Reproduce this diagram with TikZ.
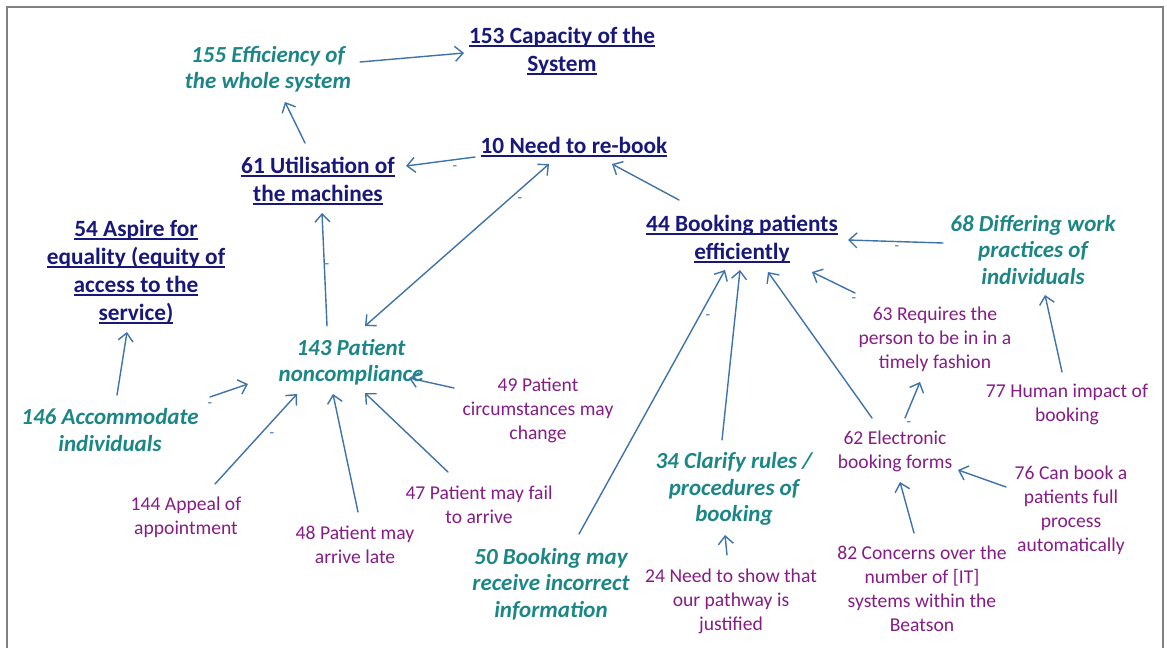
\documentclass[tikz,border=0pt]{standalone}
\usepackage{fontspec}
\setmainfont{Carlito}
\usetikzlibrary{arrows.meta}

\definecolor{navyT}{RGB}{24,24,122}
\definecolor{tealT}{RGB}{28,134,134}
\definecolor{plumT}{RGB}{134,28,134}
\definecolor{linkC}{RGB}{62,114,168}
\definecolor{frameC}{RGB}{128,128,128}

% thick underline for the core concepts
\newsavebox\ulbox
\newcommand\ulin[1]{\sbox\ulbox{#1}\rlap{\color{navyT}\rule[-4.2pt]{\wd\ulbox}{2.3pt}}\usebox\ulbox}

\tikzset{
  core/.style={font=\fontsize{23.3}{28}\selectfont\bfseries, text=navyT, align=center, inner sep=2pt},
  theme/.style={font=\fontsize{23}{26.5}\selectfont\bfseries\itshape, text=tealT, align=center, inner sep=2pt},
  idea/.style={font=\fontsize{19.6}{24}\selectfont, text=plumT, align=center, inner sep=2pt},
  link/.style={draw=linkC, line width=1.4pt, line cap=round,
    -{Straight Barb[length=8pt,width=15pt]}},
  twoway/.style={draw=linkC, line width=1.4pt, line cap=round,
    {Straight Barb[length=8pt,width=15pt]}-{Straight Barb[length=8pt,width=15pt]}},
  sign/.style={font=\fontsize{15}{15}\selectfont, text=linkC, inner sep=0pt}
}

\begin{document}
\begin{tikzpicture}[x=1pt,y=-1pt]
\useasboundingbox (0,0) rectangle (1167,648);

% frame
\draw[frameC, line width=2.4pt] (7,648) -- (7,7) -- (1163,7) -- (1163,648);

% concepts
\node[core]  (n153) at (562,51)  {\ulin{153 Capacity of the}\\\ulin{System}};
\node[theme] (n155) at (268,69)  {155 Efficiency of\\the whole system};
\node[core]  (n10)  at (574,147) {\ulin{10 Need to re-book}};
\node[core]  (n61)  at (318,181) {\ulin{61 Utilisation of}\\\ulin{the machines}};
\node[core]  (n54)  at (136,272) {\ulin{54 Aspire for}\\\ulin{equality (equity of}\\\ulin{access to the}\\\ulin{service)}};
\node[core]  (n44)  at (742,239) {\ulin{44 Booking patients}\\\ulin{efficiently}};
\node[theme] (n68)  at (1033,250) {68 Differing work\\practices of\\individuals};
\node[theme] (n143) at (351,362) {143 Patient\\noncompliance};
\node[theme] (n146) at (110,430) {146 Accommodate\\individuals};
\node[idea]  (n49)  at (538,410) {49 Patient\\circumstances may\\change};
\node[idea]  (n63)  at (935,339) {63 Requires the\\person to be in in a\\timely fashion};
\node[idea]  (n77)  at (1067,404) {77 Human impact of\\booking};
\node[idea]  (n62)  at (895,451) {62 Electronic\\booking forms};
\node[theme] (n34)  at (734,489) {34 Clarify rules /\\procedures of\\booking};
\node[idea]  (n76)  at (1071,510) {76 Can book a\\patients full\\process\\automatically};
\node[idea]  (n82)  at (922,589) {82 Concerns over the\\number of [IT]\\systems within the\\Beatson};
\node[idea]  (n24)  at (731,601) {24 Need to show that\\our pathway is\\justified};
\node[theme] (n50)  at (551,584) {50 Booking may\\receive incorrect\\information};
\node[idea]  (n47)  at (479,505) {47 Patient may fail\\to arrive};
\node[idea]  (n48)  at (355,545) {48 Patient may\\arrive late};
\node[idea]  (n144) at (186,517) {144 Appeal of\\appointment};

% links
\draw[link] ([shift={(92,-7)}]n155.center) -- ([shift={(-98,2)}]n153.center);
\draw[link] ([shift={(-13,-38)}]n61.center) -- ([shift={(17,33)}]n155.center);
\draw[link] ([shift={(-99,10)}]n10.center) -- ([shift={(88,-15)}]n61.center);
\draw[twoway] ([shift={(14,-36)}]n143.center) -- ([shift={(-25,17)}]n10.center);
\draw[link] ([shift={(-63,-39)}]n44.center) -- ([shift={(38,17)}]n10.center);
\draw[link] ([shift={(-24,-36)}]n143.center) -- ([shift={(4,32)}]n61.center);
\draw[link] ([shift={(7,-35)}]n146.center) -- ([shift={(-9,60)}]n54.center);
\draw[link] ([shift={(100,-33)}]n146.center) -- ([shift={(-103,22)}]n143.center);
\draw[link] ([shift={(29,-33)}]n144.center) -- ([shift={(-54,32)}]n143.center);
\draw[link] ([shift={(3,-33)}]n48.center) -- ([shift={(-18,32)}]n143.center);
\draw[link] ([shift={(-31,-33)}]n47.center) -- ([shift={(14,31)}]n143.center);
\draw[link] ([shift={(-84,-22)}]n49.center) -- ([shift={(58,16)}]n143.center);
\draw[link] ([shift={(28,-50)}]n50.center) -- ([shift={(-17,31)}]n44.center);
\draw[link] ([shift={(-12,-49)}]n34.center) -- ([shift={(-2,31)}]n44.center);
\draw[link] ([shift={(-23,-33)}]n62.center) -- ([shift={(26,33)}]n44.center);
\draw[link] ([shift={(-80,-46)}]n63.center) -- ([shift={(70,33)}]n44.center);
\draw[link] ([shift={(-90,-7)}]n68.center) -- ([shift={(106,1)}]n44.center);
\draw[link] ([shift={(-5,-32)}]n77.center) -- ([shift={(12,45)}]n68.center);
\draw[link] ([shift={(10,-33)}]n62.center) -- ([shift={(-15,43)}]n63.center);
\draw[link] ([shift={(-8,-56)}]n82.center) -- ([shift={(5,31)}]n62.center);
\draw[link] ([shift={(-65,-23)}]n76.center) -- ([shift={(63,19)}]n62.center);
\draw[link] ([shift={(-4,-46)}]n24.center) -- ([shift={(-9,46)}]n34.center);

% negative signs on links
\node[sign] (m1) at (455,168) {-};
\node[sign] (m2) at (520,200) {-};
\node[sign] (m3) at (327,266) {-};
\node[sign] (m4) at (210,405) {-};
\node[sign] (m5) at (272,435) {-};
\node[sign] (m6) at (708,317) {-};
\node[sign] (m7) at (854,300) {-};
\node[sign] (m8) at (897,248) {-};
\node[sign] (m9) at (909,424) {-};
\end{tikzpicture}
\end{document}
